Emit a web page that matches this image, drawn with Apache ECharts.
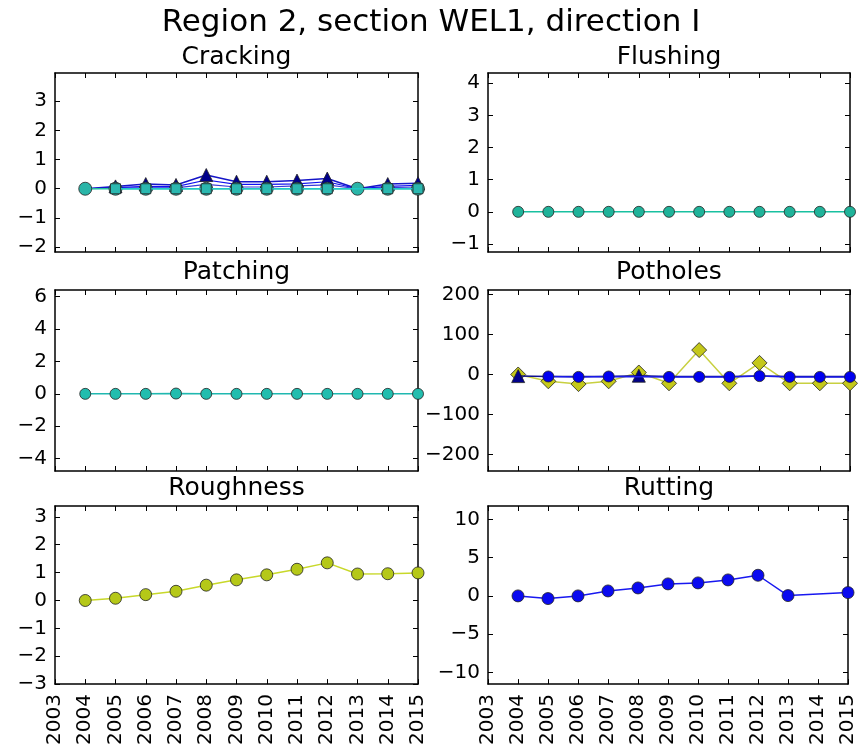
<!DOCTYPE html>
<html><head><meta charset="utf-8">
<script src="https://cdn.jsdelivr.net/npm/echarts@6/dist/echarts.min.js"></script>
<style>html,body{margin:0;padding:0;background:#fff}#c{width:858px;height:748px}</style>
</head><body><div id="c"></div>
<script>
const years = [2004,2005,2006,2007,2008,2009,2010,2011,2012,2013,2014,2015];

const mainTitle = 'Region 2, section WEL1, direction I';
const panelTitles = ['Cracking','Flushing','Patching','Potholes','Roughness','Rutting'];

// Cracking
const crackingTri   = [0, 0.08, 0.16, 0.13, 0.47, 0.24, 0.24, 0.28, 0.35, 0, 0.16, 0.19];
const crackingBlue  = [0, 0.04, 0.08, 0.07, 0.30, 0.15, 0.15, 0.17, 0.24, 0, 0.08, 0.12];
const crackingBlue2 = [0, 0.02, 0.03, 0.03, 0.15, 0.06, 0.06, 0.10, 0.13, 0, 0.04, 0.06];
const crackingCirc  = [0, 0, 0, 0, 0, 0, 0, 0, 0, 0, 0, 0];
const crackingSq    = [null, 0, 0, 0, 0, 0, 0, 0, 0, null, 0, 0];
// Flushing
const flushing = [0, 0, 0, 0, 0, 0, 0, 0, 0, 0, 0, 0];
// Patching
const patching = [0, 0, 0, 0.02, 0, 0, 0, 0, 0, 0, 0, 0];
// Potholes
const potholesDiamond = [0, -17, -24, -17, 5, -22, 61, -22, 29, -22, -22, -22];
const potholesTri     = [-4, -5, -5, -5, -3, -5, -5, -5, -4, -5, -5, -5];
const potholesCirc    = [null, -5, -6, -5, null, -6, -6, -6, -4, -6, -6, -6];
// Roughness
const roughness = [0, 0.08, 0.21, 0.33, 0.55, 0.74, 0.92, 1.12, 1.35, 0.95, 0.96, 0.99];
// Rutting
const rutting = [0, -0.35, 0, 0.65, 1.04, 1.57, 1.7, 2.09, 2.7, 0.04, null, 0.43];

const yRanges = [
  {min:-2.17, max:3.97, ticks:[-2,-1,0,1,2,3]},
  {min:-1.25, max:4.32, ticks:[-1,0,1,2,3,4]},
  {min:-4.76, max:6.41, ticks:[-4,-2,0,2,4,6]},
  {min:-241, max:211, ticks:[-200,-100,0,100,200]},
  {min:-3, max:3.39, ticks:[-3,-2,-1,0,1,2,3]},
  {min:-11.54, max:11.76, ticks:[-10,-5,0,5,10]}
];

const FONT = 'DejaVu Sans';
const grids = [
  {left:55, top:73, width:363, height:179},
  {left:488, top:73, width:362, height:179},
  {left:55, top:290, width:363, height:181},
  {left:488, top:290, width:362, height:181},
  {left:55, top:506, width:363, height:179},
  {left:488, top:506, width:362, height:180}
];

const xAxes = [], yAxes = [];
grids.forEach((g, i) => {
  const bottomRow = i >= 4;
  const axLine = {show:true, onZero:false, lineStyle:{color:'#000', width:1.5}};
  const tick = {show:true, inside:true, length:5, lineStyle:{color:'#000', width:1}};
  xAxes.push({
    gridIndex:i, type:'value', min:2003, max:2015, interval:1, position:'bottom',
    axisLine:axLine, splitLine:{show:false}, axisTick:tick,
    axisLabel:{show:bottomRow, rotate:90, margin:10, fontFamily:FONT, fontSize:20, color:'#000',
      formatter:v => String(v), showMinLabel:true, showMaxLabel:true}
  });
  xAxes.push({
    gridIndex:i, type:'value', min:2003, max:2015, interval:1, position:'top',
    axisLine:axLine, splitLine:{show:false}, axisTick:tick,
    axisLabel:{show:false}
  });
  const r = yRanges[i];
  yAxes.push({
    gridIndex:i, type:'value', min:r.min, max:r.max, position:'left',
    axisLine:axLine, splitLine:{show:false},
    axisTick:Object.assign({customValues:r.ticks}, tick),
    axisLabel:{show:true, margin:8, fontFamily:FONT, fontSize:20, color:'#000', customValues:r.ticks,
      formatter:v => (v < 0 ? '\u2212' + Math.abs(v) : String(v))}
  });
  yAxes.push({
    gridIndex:i, type:'value', min:r.min, max:r.max, position:'right',
    axisLine:axLine, splitLine:{show:false},
    axisTick:Object.assign({customValues:r.ticks}, tick),
    axisLabel:{show:false}
  });
});

// hideWhere: markers hidden where another (overlying) series has a marker
function pts(arr, coverArr){
  return years.map((y,k) => {
    const v = arr[k] === null ? '-' : arr[k];
    if (coverArr && coverArr[k] !== null) return {value:[y, v], symbolSize:0};
    return [y, v];
  });
}
function line(panel, arr, color, symbol, size, opts){
  opts = opts || {};
  return {
    type:'line', xAxisIndex:panel*2, yAxisIndex:panel*2, data:pts(arr, opts.cover),
    symbol:symbol, symbolSize:size, showSymbol:symbol !== 'none', connectNulls:true,
    lineStyle:{color: opts.lineColor || color, width: opts.lineWidth || 1.5},
    itemStyle:{color:color, borderColor:'#222', borderWidth:0.8},
    animation:false, silent:true, z: opts.z || 2
  };
}

// positions where cracking circle is the visible marker = where squares are missing
const crackingCircOnly = crackingSq.map(v => v === null ? 0 : null);
const crackingTriCover = crackingCircOnly;

const series = [
  line(0, crackingBlue2, '#3a3ad8', 'none', 0, {lineWidth:1.2, z:2}),
  line(0, crackingBlue, '#1010f0', 'none', 0, {lineWidth:1.2, z:2}),
  line(0, crackingTri, '#00008b', 'triangle', 13, {lineColor:'#1515c8', z:3, cover:crackingTriCover}),
  line(0, crackingCirc, '#2ab5a8', 'circle', 13, {lineColor:'#22c0a0', z:4}),
  line(0, crackingSq, '#2bb8b0', 'rect', 10, {lineColor:'#20c8c8', z:5}),
  line(1, flushing, '#20b39a', 'circle', 11, {lineColor:'#18c0a0'}),
  line(2, patching, '#22bdae', 'circle', 11, {lineColor:'#20b8b0'}),
  line(3, potholesDiamond, '#c4c81a', 'diamond', 15, {lineColor:'#c8d040', z:2}),
  line(3, potholesTri, '#00008b', 'triangle', 13, {lineColor:'#101090', z:3, cover:potholesCirc}),
  line(3, potholesCirc, '#0000f0', 'circle', 11, {lineColor:'#1a1ae8', z:4}),
  line(4, roughness, '#b5c818', 'circle', 12, {lineColor:'#c8d82a'}),
  line(5, rutting, '#0a0af0', 'circle', 12, {lineColor:'#1818f0'})
];

const centers = [236.5, 669, 236.5, 669, 236.5, 669];
const titleY = [57, 57, 272, 272, 488, 488];
const graphics = [{
  type:'text', x:431, y:23,
  style:{text:mainTitle, font:'31px "DejaVu Sans"', fill:'#000', textAlign:'center', textVerticalAlign:'middle'}
}];
panelTitles.forEach((t,i) => graphics.push({
  type:'text', x:centers[i], y:titleY[i],
  style:{text:t, font:'25px "DejaVu Sans"', fill:'#000', textAlign:'center', textVerticalAlign:'middle'}
}));

const chart = echarts.init(document.getElementById('c'), null, {renderer:'canvas'});
chart.setOption({
  backgroundColor:'#fff',
  animation:false,
  grid:grids,
  xAxis:xAxes,
  yAxis:yAxes,
  series:series,
  graphic:graphics
});
</script></body></html>
